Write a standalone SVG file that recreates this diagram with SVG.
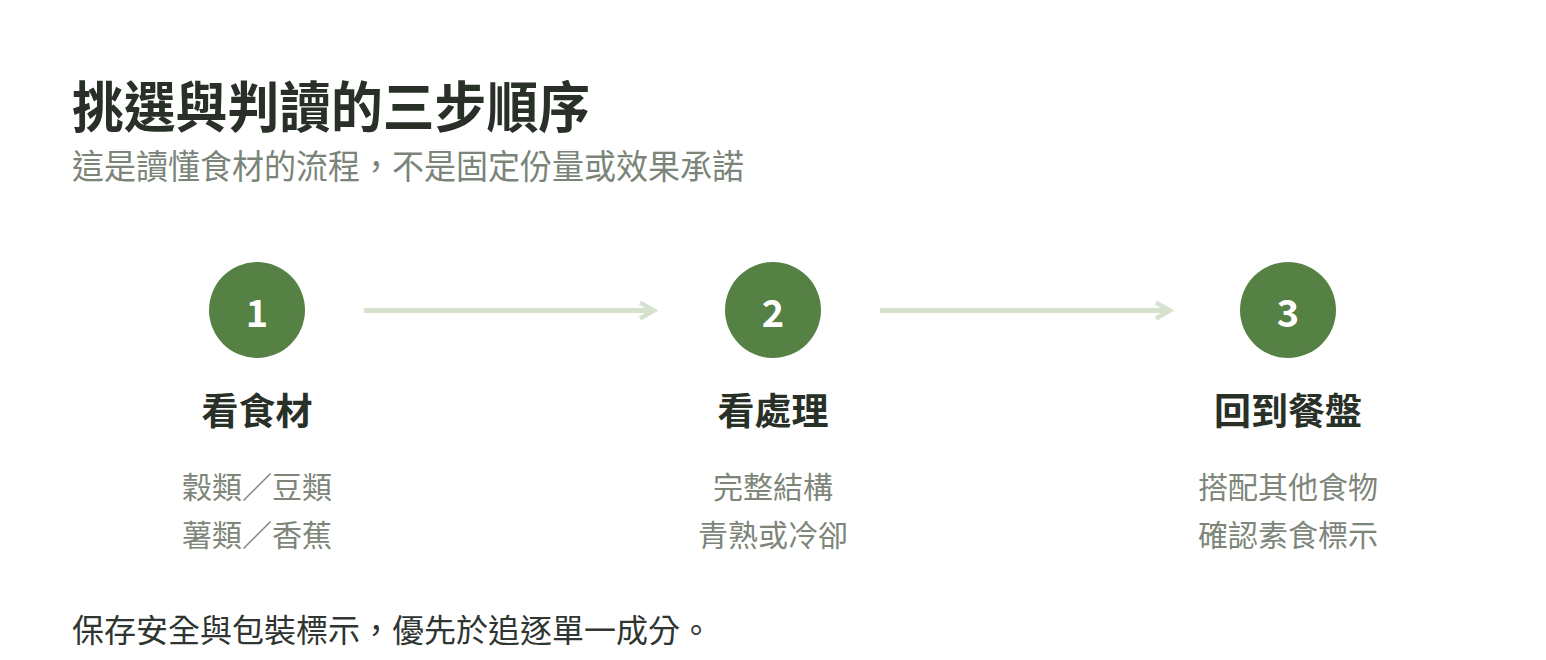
<svg xmlns="http://www.w3.org/2000/svg" width="1546" height="660" viewBox="0 0 1546 660">
<defs>
<style>
.t{font-family:"Noto Sans CJK TC","Noto Sans CJK SC",sans-serif;}
.title{font-size:55px;font-weight:700;fill:#283028;}
.sub{font-size:34px;fill:#7a8478;}
.st{font-size:37px;font-weight:700;fill:#283028;text-anchor:middle;}
.sd{font-size:30px;fill:#7d8679;text-anchor:middle;}
.num{font-family:"Noto Sans CJK TC","Noto Sans",sans-serif;font-size:38px;font-weight:700;fill:#ffffff;text-anchor:middle;}
.foot{font-size:32px;fill:#2f3530;}
.circ{fill:#558144;}
.arr{stroke:#d5e2cd;stroke-width:5;fill:none;}
</style>
<marker id="ah" viewBox="0 0 10 10" refX="8" refY="5" markerWidth="4" markerHeight="4" orient="auto" markerUnits="strokeWidth">
<path d="M1,1 L8,5 L1,9" fill="none" stroke="#d5e2cd" stroke-width="2.2"/>
</marker>
</defs>
<rect width="1546" height="660" fill="#ffffff"/>
<g id="header">
<text class="t title" x="72" y="127" textLength="518" lengthAdjust="spacingAndGlyphs">挑選與判讀的三步順序</text>
<text class="t sub" x="72" y="179" textLength="672" lengthAdjust="spacingAndGlyphs">這是讀懂食材的流程，不是固定份量或效果承諾</text>
</g>
<g id="connectors">
<line class="arr" x1="364" y1="310.5" x2="654" y2="310.5" marker-end="url(#ah)"/>
<line class="arr" x1="880" y1="310.5" x2="1170" y2="310.5" marker-end="url(#ah)"/>
</g>
<g id="step1">
<circle class="circ" cx="257" cy="310" r="48"/>
<text class="num" x="257" y="327">1</text>
<text class="t st" x="257" y="425">看食材</text>
<text class="t sd" x="257" y="498">穀類／豆類</text>
<text class="t sd" x="257" y="546">薯類／香蕉</text>
</g>
<g id="step2">
<circle class="circ" cx="773" cy="310" r="48"/>
<text class="num" x="773" y="327">2</text>
<text class="t st" x="773" y="425">看處理</text>
<text class="t sd" x="773" y="498">完整結構</text>
<text class="t sd" x="773" y="546">青熟或冷卻</text>
</g>
<g id="step3">
<circle class="circ" cx="1288" cy="310" r="48"/>
<text class="num" x="1288" y="327">3</text>
<text class="t st" x="1288" y="425">回到餐盤</text>
<text class="t sd" x="1288" y="498">搭配其他食物</text>
<text class="t sd" x="1288" y="546">確認素食標示</text>
</g>
<g id="footer">
<text class="t foot" x="72" y="642">保存安全與包裝標示，優先於追逐單一成分。</text>
</g>
</svg>
